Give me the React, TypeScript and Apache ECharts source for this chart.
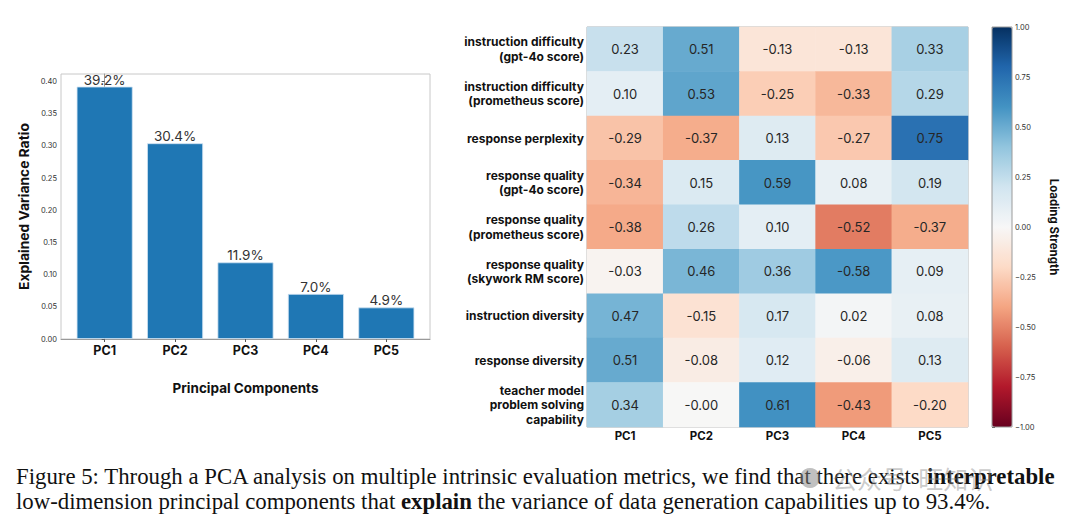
import React, { useEffect, useRef } from "react";
import * as echarts from "echarts";

const components = ["PC1", "PC2", "PC3", "PC4", "PC5"];
const varianceRatio = [0.392, 0.304, 0.119, 0.07, 0.049];
const varianceTicks = [0, 0.05, 0.1, 0.15, 0.2, 0.25, 0.3, 0.35, 0.4];

const metrics = [
  "instruction difficulty\n(gpt-4o score)",
  "instruction difficulty\n(prometheus score)",
  "response perplexity",
  "response quality\n(gpt-4o score)",
  "response quality\n(prometheus score)",
  "response quality\n(skywork RM score)",
  "instruction diversity",
  "response diversity",
  "teacher model\nproblem solving\ncapability",
];

const loadings = [
  [0.23, 0.51, -0.13, -0.13, 0.33],
  [0.1, 0.53, -0.25, -0.33, 0.29],
  [-0.29, -0.37, 0.13, -0.27, 0.75],
  [-0.34, 0.15, 0.59, 0.08, 0.19],
  [-0.38, 0.26, 0.1, -0.52, -0.37],
  [-0.03, 0.46, 0.36, -0.58, 0.09],
  [0.47, -0.15, 0.17, 0.02, 0.08],
  [0.51, -0.08, 0.12, -0.06, 0.13],
  [0.34, -0.003, 0.61, -0.43, -0.2],
];
// the reference shades this one cell as if it were +0.58
const shadeOverride: Record<string, number> = { "5,3": 0.58 };

const rdBu = [
  "#67001f", "#b2182b", "#d6604d", "#f4a582", "#fddbc7", "#f7f7f7",
  "#d1e5f0", "#92c5de", "#4393c3", "#2166ac", "#053061",
];

const captionLine1 = "Figure 5: Through a PCA analysis on multiple intrinsic evaluation metrics, we find that there exists ";
const captionBold1 = "interpretable";
const captionLine2a = "low-dimension principal components that ";
const captionBold2 = "explain";
const captionLine2b = " the variance of data generation capabilities up to 93.4%.";
const watermark = "公众号  旺知识";

const SANS = "Inter, 'Noto Sans', sans-serif";
const SERIF = "'Liberation Serif', 'Times New Roman', serif";

export default function App() {
  const ref = useRef<HTMLDivElement>(null);
  useEffect(() => {
    if (!ref.current) return;
    const chart = echarts.init(ref.current, undefined, { renderer: "svg" });
    const heatData: any[] = [];
    loadings.forEach((row, r) =>
      row.forEach((v, c) => {
        const key = `${r},${c}`;
        const shade = key in shadeOverride ? shadeOverride[key] : v;
        heatData.push({ value: [c, r, shade], text: v.toFixed(2) });
      })
    );
    const minus = (s: string) => s.replace("-", "\u2212");
    const capRich = {
      n: { fontFamily: SERIF, fontSize: 22.8, fill: "#111" },
      b: { fontFamily: SERIF, fontSize: 22.8, fontWeight: "bold", fill: "#111" },
    };
    chart.setOption({
      animation: false,
      backgroundColor: "#fff",
      grid: [
        { left: 61, top: 74, width: 369, height: 265, show: true, borderColor: "#c8c8c8", borderWidth: 1 },
        { left: 587, top: 27, width: 381, height: 400, show: true, borderColor: "#b0b0b0", borderWidth: 1 },
        { left: 992, top: 27, width: 20, height: 400, show: true, borderColor: "#9a9a9a", borderWidth: 1, z: 5 },
      ],
      xAxis: [
        {
          type: "value",
          gridIndex: 0,
          min: -0.62,
          max: 4.62,
          splitLine: { show: false },
          axisLine: { show: true, onZero: false, lineStyle: { color: "#999" } },
          axisTick: { show: true, customValues: [0, 1, 2, 3, 4], length: 3, lineStyle: { color: "#555" } },
          axisLabel: {
            customValues: [0, 1, 2, 3, 4],
            formatter: (v: number) => components[Math.round(v)],
            fontFamily: SANS,
            fontWeight: "bold",
            fontSize: 12.5,
            color: "#111",
            margin: 5,
          },
          name: "Principal Components",
          nameLocation: "middle",
          nameGap: 42,
          nameTextStyle: { fontFamily: SANS, fontWeight: "bold", fontSize: 13.5, color: "#111" },
        },
        {
          type: "category",
          gridIndex: 1,
          data: components,
          axisLine: { show: false },
          axisTick: { show: false },
          axisLabel: { fontFamily: SANS, fontWeight: "bold", fontSize: 11.5, color: "#111", margin: 3 },
          splitArea: { show: false },
        },
        { type: "value", gridIndex: 2, min: 0, max: 1, show: false },
      ],
      yAxis: [
        {
          type: "value",
          gridIndex: 0,
          min: 0,
          max: 0.4116,
          splitLine: { show: false },
          axisLine: { show: true, lineStyle: { color: "#999" } },
          axisTick: { show: true, customValues: varianceTicks, length: 3, lineStyle: { color: "#555" } },
          axisLabel: {
            customValues: varianceTicks,
            formatter: (v: number) => v.toFixed(2),
            fontFamily: SANS,
            fontSize: 7.5,
            color: "#333",
            margin: 4,
          },
          name: "Explained Variance Ratio",
          nameLocation: "middle",
          nameGap: 30,
          nameTextStyle: { fontFamily: SANS, fontWeight: "bold", fontSize: 13.8, color: "#111" },
        },
        {
          type: "category",
          gridIndex: 1,
          data: metrics,
          inverse: true,
          axisLine: { show: false },
          axisTick: { show: false },
          axisLabel: {
            fontFamily: SANS,
            fontWeight: "bold",
            fontSize: 12,
            lineHeight: 14.5,
            color: "#111",
            margin: 3,
            align: "right",
          },
        },
        {
          type: "value",
          gridIndex: 2,
          min: -1,
          max: 1,
          interval: 0.25,
          position: "right",
          splitLine: { show: false },
          axisLine: { show: false },
          axisTick: { show: true, length: 3, inside: false, lineStyle: { color: "#444" } },
          axisLabel: {
            formatter: (v: number) => minus(v.toFixed(2)),
            fontFamily: SANS,
            fontSize: 7.5,
            color: "#333",
            margin: 3,
          },
          name: "Loading Strength",
          nameLocation: "middle",
          nameRotate: -90,
          nameGap: 36,
          nameTextStyle: { fontFamily: SANS, fontWeight: "bold", fontSize: 11.5, color: "#111" },
        },
      ],
      visualMap: {
        type: "continuous",
        min: -1,
        max: 1,
        seriesIndex: 1,
        show: true,
        calculable: false,
        left: 992,
        top: 27,
        padding: 0,
        itemWidth: 20,
        itemHeight: 400,
        text: ["", ""],
        inRange: { color: rdBu },
      },
      series: [
        {
          type: "bar",
          xAxisIndex: 0,
          yAxisIndex: 0,
          data: varianceRatio.map((v, i) => [i, v]),
          barWidth: 56,
          itemStyle: { color: "#1f77b4", borderColor: "#cfe2f2", borderWidth: 0.8 },
          label: {
            show: true,
            position: "top",
            distance: 0,
            formatter: (p: any) => (p.value[1] * 100).toFixed(1) + "%",
            fontFamily: SANS,
            fontSize: 13.5,
            color: "#333",
          },
        },
        {
          type: "heatmap",
          xAxisIndex: 1,
          yAxisIndex: 1,
          data: heatData,
          itemStyle: { borderWidth: 0 },
          label: {
            show: true,
            formatter: (p: any) => p.data.text,
            fontFamily: SANS,
            fontSize: 13,
            color: "#262626",
          },
          emphasis: { disabled: true },
        },
      ],
      graphic: [
        {
          type: "text",
          left: 16,
          top: 465,
          style: { text: `{n|${captionLine1}}{b|${captionBold1}}`, rich: capRich },
        },
        {
          type: "text",
          left: 16,
          top: 490,
          style: { text: `{n|${captionLine2a}}{b|${captionBold2}}{n|${captionLine2b}}`, rich: capRich },
        },
        {
          type: "circle",
          z: 10,
          shape: { cx: 810, cy: 478, r: 10 },
          style: { fill: "rgba(130,130,130,0.5)" },
        },
        {
          type: "text",
          left: 832,
          top: 465,
          z: 10,
          style: {
            text: watermark,
            fontFamily: "'Noto Sans CJK SC', sans-serif",
            fontSize: 25,
            fill: "rgba(140,140,140,0.45)",
          },
        },
      ],
    });
    return () => chart.dispose();
  }, []);
  return (
    <div
      ref={ref}
      style={{ position: "fixed", left: 0, top: 0, width: 1080, height: 523, background: "#fff" }}
    />
  );
}
